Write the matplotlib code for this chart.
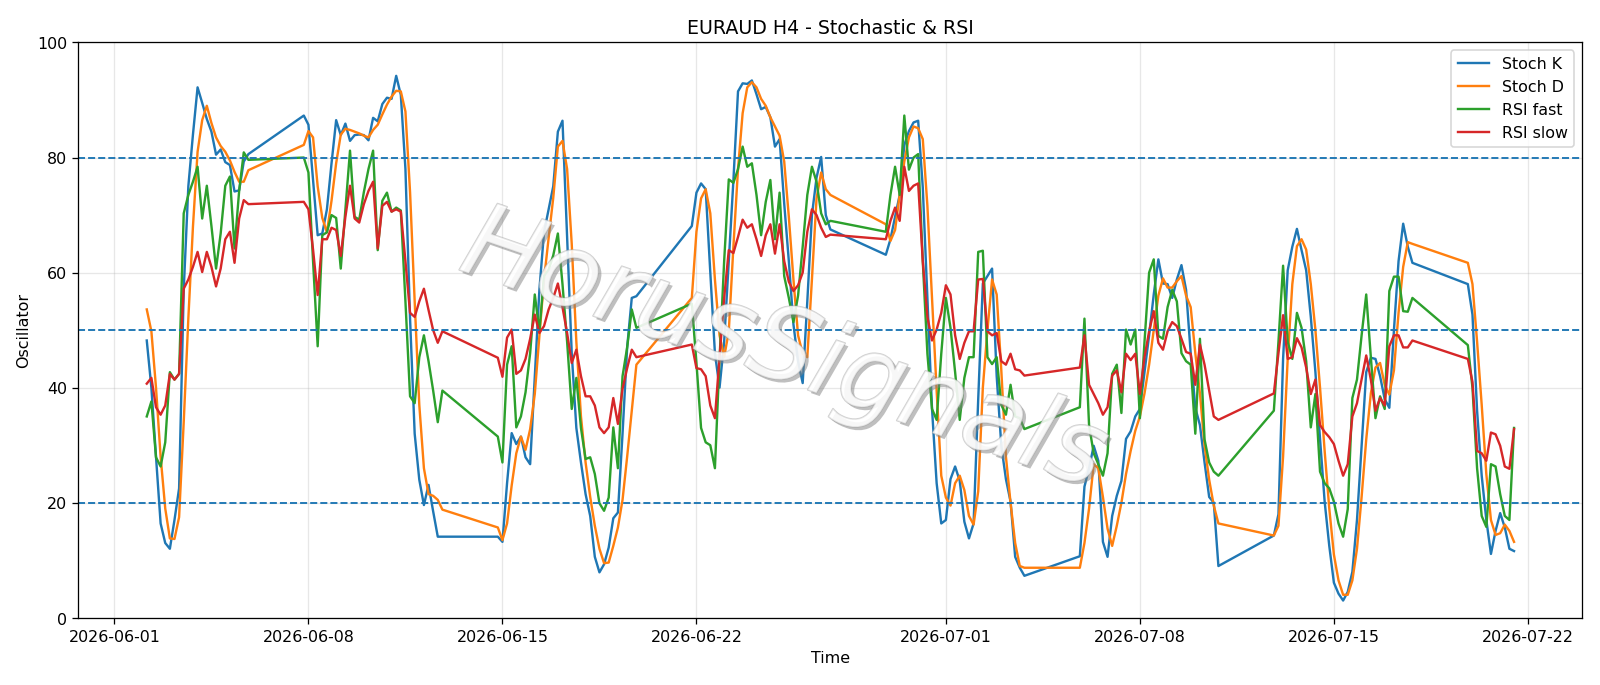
import numpy as np
import pandas as pd
import matplotlib
matplotlib.use("Agg")
import matplotlib.pyplot as plt
import matplotlib.patheffects as pe

# --- DATA (H4 bars, weekends skipped) --------------------------------
start = "2026-06-02 04:00"
end = "2026-07-21 12:00"

stoch_k = [
    48.2, 40, 28, 16.4, 13.0, 12.0, 17.0, 22.5, 57, 75, 84, 92.2, 89.5, 86.7, 84.5, 80.5, 81.4, 79.2, 78.7, 74.1, 74.3, 79.3, 80.6,
    87.3, 85.7, 76, 66.5, 66.8, 71, 79, 86.5, 83.9, 85.9, 82.9, 83.9, 84, 83.9, 83, 86.9, 86.3, 89.3, 90.4, 90.2, 94.2, 90.9, 78, 52, 32, 24, 19.6, 23.1, 18.5, 14.1, 14.1,
    14.1, 13.2, 23.4, 32.1, 30.2, 31.5, 27.9, 26.7, 42, 57, 67, 71, 75, 84.5, 86.4, 66, 46, 33, 27, 21.5, 17.7, 10.6, 7.9, 9.3, 12.2, 17.3, 18.3, 32, 47, 55.6, 55.9,
    68.1, 73.9, 75.5, 74.5, 60, 46, 40, 48, 62, 76, 91.5, 92.9, 92.8, 93.4, 91, 88.4, 88.8, 87, 81.9, 83.2, 72, 62, 51, 44.6, 40.8, 55, 70, 76.5, 80.1, 70, 67.5,
    63.1, 65.8, 69.7, 73.5, 82.2, 84.6, 86.1, 86.4, 74.8, 55.6, 36.3, 23.4, 16.4, 17, 24.1, 26.3, 23.8, 16.7, 13.8, 16.4, 38, 58.1, 59.4, 60.7, 42, 29.9, 24.1, 20.2, 10.6, 8.7, 7.3,
    10.7, 22.8, 26, 29.9, 27.3, 13.2, 10.6, 17.7, 21.2, 23.8, 31.1, 32.4, 35, 36.3, 42.7, 49.1, 56.2, 62.3, 58.1, 58, 55.6, 58.8, 61.3, 57, 46, 36.5, 33.5, 27, 21, 20, 9,
    14.3, 18, 45, 60.4, 64.5, 67.6, 63.9, 60.4, 52.3, 42.7, 31.1, 20.2, 12.5, 6.1, 4.2, 3, 4.5, 8, 17, 29.9, 42.7, 45.2, 45, 42, 38, 36.5, 50, 62, 68.5, 64.5, 61.7,
    58, 52.7, 36, 24.7, 17, 11.1, 15.1, 18.2, 15.7, 12, 11.6,
]
stoch_d = [
    53.6, 49.8, 40, 28, 19, 13.8, 13.7, 17.5, 34, 52, 68, 81, 86.5, 89, 86, 83.5, 82, 81, 79.5, 77.5, 75.8, 75.8, 77.8,
    82.2, 84.6, 83.5, 75, 69.5, 67, 72.5, 79, 84, 85, 84.8, 84.5, 84.2, 83.8, 83.5, 84.8, 85.7, 87.5, 89.2, 90.6, 91.6, 91.5, 88, 74, 55, 37, 26, 21.5, 21.2, 20.5, 18.8,
    15.7, 13.5, 16.4, 23, 28.6, 31.5, 29.2, 32.8, 38.9, 49, 58.8, 66, 73, 81.9, 82.9, 78, 65, 48, 35, 27, 21, 16, 12, 9.5, 9.6, 12.5, 15.7, 20.5, 28, 36, 44,
    55.6, 67.1, 72.9, 74.5, 70.3, 58.8, 49.1, 45.3, 49.8, 64.5, 78, 87.7, 92.2, 93.1, 92.2, 90.2, 89, 87, 85.4, 83.8, 79.3, 69.7, 58.8, 49.1, 45.9, 45.3, 58.8, 72.9, 77.4, 74.5, 73.5,
    68.4, 65.5, 67.4, 73.5, 79.3, 83.5, 85.4, 85.1, 83.2, 71.6, 55.6, 39.5, 24.7, 20.9, 19.5, 23.4, 24.7, 22.2, 17.7, 16.2, 22, 40, 50, 58.8, 56.2, 43, 28, 20, 13, 9, 8.7,
    8.7, 13, 19, 26.7, 26, 21, 15.5, 12.5, 16, 20, 25, 29, 32.5, 35, 39, 44, 50, 56, 59, 57.4, 57.4, 58.5, 59.4, 56, 54, 46, 39, 30, 24, 19.5, 16.4,
    14.3, 16, 28, 45, 58, 64.6, 65.8, 64, 58, 50, 40, 29, 19, 11, 6.5, 4, 4, 6.5, 12, 21, 31, 39, 43.5, 44.3, 40.5, 38.8, 43, 53, 61, 65.3, 65,
    61.7, 58, 48, 37, 25, 17, 14.4, 14.7, 16.2, 15.1, 13.2,
]
rsi_fast = [
    35, 37.6, 27.9, 26.3, 30.5, 42.7, 41.4, 42.4, 70.3, 73.5, 75.8, 78.4, 69.4, 75.1, 68.1, 60.7, 66.8, 75.1, 76.7, 64.2, 74.2, 80.9, 79.6,
    80, 77.4, 62, 47.2, 66.5, 67, 70, 69.5, 60.7, 71, 81.2, 69.7, 69.2, 74, 78, 81.2, 63.9, 72.5, 73.9, 70.6, 71.3, 70.8, 55, 38.5, 37.3, 45.3, 49.1, 44.6, 39.5, 34, 39.5,
    31.5, 27, 44, 47.2, 33.1, 35, 39.2, 46, 56.2, 49.8, 59.4, 60.5, 63, 66.8, 58, 48, 36.3, 41.7, 33, 27.6, 27.9, 25, 19.9, 18.6, 20.9, 33.1, 26, 42, 47, 53.6, 50.4,
    54.6, 44.3, 33, 30.5, 30, 26, 45, 62, 76.2, 75.6, 78, 81.9, 78.4, 79, 73.5, 66.5, 72.3, 76.1, 65.8, 73.9, 59.4, 55.6, 51.4, 56, 64.5, 73.5, 78.4, 75.8, 70.3, 68.4, 69,
    67.1, 73.5, 78.4, 73.5, 87.3, 77.9, 80, 80.6, 62, 45.9, 36.3, 34.4, 45.9, 55.6, 50.4, 42.7, 34.4, 41.7, 45.3, 45.3, 63.6, 63.8, 45.3, 44.1, 45.3, 37, 35.3, 40.5, 35, 34.7, 32.8,
    36.6, 52, 33.4, 28.6, 26.7, 24.7, 28.6, 42.4, 44, 35.6, 50.1, 47.5, 50.1, 34.7, 48, 60, 62.3, 49, 48.5, 54, 57, 55, 46, 44.6, 44, 32, 48.5, 31, 27, 25.4, 24.7,
    36, 48, 61.2, 48, 45, 53, 50.4, 44.6, 33.1, 38.9, 25.4, 23.4, 22.5, 20.2, 16.4, 14.1, 18.9, 38.2, 41.4, 49.1, 56.2, 45.3, 34.7, 38.5, 36.3, 56.8, 59.3, 59.3, 53.3, 53.2, 55.6,
    47.4, 40, 26, 17.7, 15.8, 26.7, 26.3, 21.5, 17.7, 17, 33,
]
rsi_slow = [
    40.7, 41.7, 36.6, 35.3, 36.9, 42.4, 41.4, 42.4, 57.2, 58.8, 61, 63.6, 60.1, 63.6, 61, 57.6, 60.7, 65.8, 67.1, 61.7, 69.4, 72.6, 71.9,
    72.3, 71, 64, 56.1, 65.8, 65.8, 67.8, 67.4, 62.9, 69.7, 75.1, 69.4, 68.7, 71.9, 74.2, 75.8, 64.2, 71.6, 72.3, 70.6, 71, 70.6, 62, 53, 52.3, 55, 57.2, 53.5, 50, 47.8, 49.8,
    45.2, 41.9, 48.7, 50.1, 42.4, 43, 45, 48.5, 52.7, 49.5, 50.7, 53.6, 55.6, 58.1, 54, 49.5, 44.3, 46.6, 42, 38.5, 38.5, 36.9, 33.1, 32.1, 33.1, 38.2, 33.7, 39.8, 43.4, 46.6, 45.3,
    47.5, 43.4, 43.2, 42, 36.9, 34.7, 45.3, 55.6, 63.9, 63.4, 66.2, 69.2, 67.8, 68.4, 65.8, 62.9, 66.5, 68.4, 63.3, 68.4, 62, 58.4, 56.8, 57.8, 60, 67.1, 71, 70, 67.8, 66.2, 66.6,
    65.8, 69, 71.3, 69, 78.4, 74.2, 75.1, 75.5, 62, 52.3, 48.2, 50.1, 53, 57.8, 56.2, 49.1, 45, 47.8, 49.8, 49.8, 58.8, 58.9, 49.8, 49.1, 49.5, 44.6, 44, 45.9, 43.2, 43, 42.1,
    43.5, 49.1, 40.5, 38.9, 37.3, 35.3, 36.6, 42.1, 43, 39.2, 45.9, 44.8, 45.9, 38.9, 45.3, 49.8, 53.3, 47.8, 46.6, 49.8, 51.4, 50.7, 48.5, 46.2, 45.9, 40.5, 47.5, 44, 39.5, 35, 34.4,
    39, 46, 52.6, 45, 45.3, 48.6, 47, 43.5, 38.9, 41.4, 33.5, 32.3, 31.4, 30.2, 27.3, 24.7, 26.7, 35, 37.3, 41.4, 45.6, 41.4, 36, 38.2, 36.9, 47.2, 49.1, 49.1, 47, 47, 48.2,
    45, 41, 29, 28.6, 27.3, 32.2, 31.9, 29.9, 26.3, 25.9, 32.8,
]
levels = [80, 50, 20]

# --- MAIN ------------------------------------------------------------
if __name__ == "__main__":
    t = pd.date_range(start, end, freq="4h")
    # forex week: open sunday 20:00, close friday 20:00
    keep = (t.dayofweek < 5) | ((t.dayofweek == 6) & (t.hour >= 20))
    t = t[keep]

    fig, ax = plt.subplots(figsize=(14, 6), dpi=1600 / 14)
    fig.subplots_adjust(left=0.049, right=0.989, top=0.937, bottom=0.098)

    ax.plot(t, stoch_k, label="Stoch K")
    ax.plot(t, stoch_d, label="Stoch D")
    ax.plot(t, rsi_fast, label="RSI fast")
    ax.plot(t, rsi_slow, label="RSI slow")
    for lv in levels:
        ax.axhline(lv, linestyle="--", linewidth=1.2)

    ax.set_ylim(0, 100)
    ax.grid(True, alpha=0.3)
    ax.legend(loc="upper right")
    ax.set_title("EURAUD H4 - Stochastic & RSI")
    ax.set_xlabel("Time")
    ax.set_ylabel("Oscillator")

    # watermark (semi-transparent so the lines show through)
    fig.text(0.49, 0.487, "HorusSignals", fontsize=65, color="white", style="italic",
             ha="center", va="center", rotation=-19, alpha=0.5,
             path_effects=[pe.withSimplePatchShadow(offset=(2, -2), shadow_rgbFace="#808080", alpha=0.5),
                           pe.withStroke(linewidth=1.0, foreground="#a0a0a0")])

    fig.savefig("out.png")
